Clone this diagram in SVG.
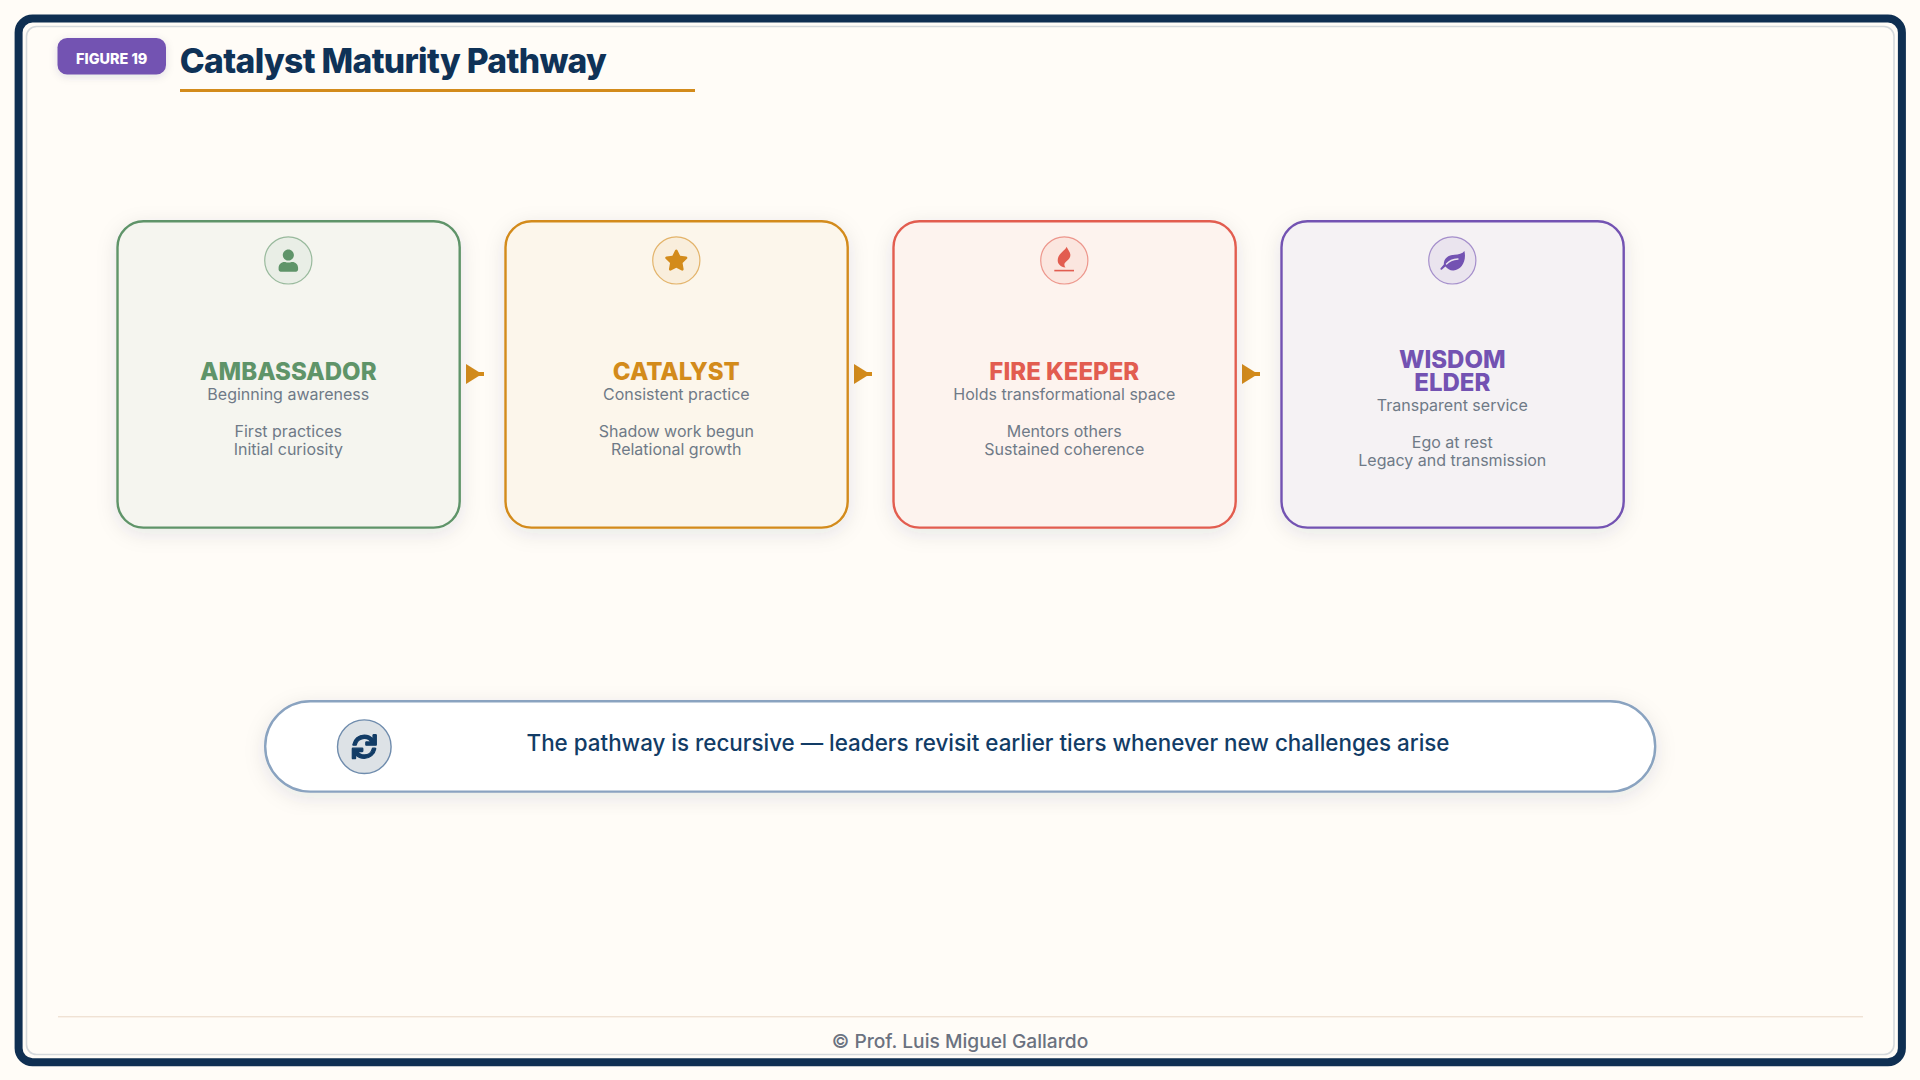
<svg xmlns="http://www.w3.org/2000/svg" width="1920" height="1080" viewBox="0 0 1920 1080">
<style>
text{font-family:Inter,"Liberation Sans",sans-serif;text-anchor:middle}
.card{stroke-width:2.4}
.t{font-size:24px;font-weight:800}
.s{font-size:16px;fill:#6f7a87}
.ic{stroke-width:1.2}
.g{fill:#5f9469}.gs{stroke:#5f9469}
.o{fill:#d38b1b}.os{stroke:#d38b1b}
.r{fill:#e25d50}.rs{stroke:#e25d50}
.p{fill:#7352b2}.ps{stroke:#7352b2}
</style>
<defs>
<filter id="sh" x="-20%" y="-20%" width="140%" height="145%"><feDropShadow dx="0" dy="5" stdDeviation="10" flood-color="#0f2f52" flood-opacity=".1"/></filter>
<filter id="sb" x="-20%" y="-30%" width="140%" height="170%"><feDropShadow dx="0" dy="2" stdDeviation="4" flood-color="#0f2f52" flood-opacity=".12"/></filter>
<marker id="ah" markerUnits="userSpaceOnUse" markerWidth="18" markerHeight="20" refX="18" refY="10" orient="auto"><path d="M0 0L16 10L0 20z" fill="#d38b1b"/></marker>
</defs>
<rect width="1920" height="1080" fill="#fffcf7"/>
<rect x="18.6" y="18.6" width="1883.3" height="1043.6" rx="14" fill="none" stroke="#0f2f52" stroke-width="8"/>
<rect x="26.5" y="26.5" width="1867.5" height="1028" rx="10" fill="none" stroke="#d5d9dc" stroke-width="1.6"/>
<g id="header">
<rect x="57.5" y="38" width="108.5" height="36.5" rx="9.6" fill="#7352b2" filter="url(#sb)"/>
<text x="111.7" y="63.5" font-size="14.4" font-weight="800" fill="#fff">FIGURE 19</text>
<text x="393" y="73" font-size="33.6" font-weight="800" fill="#0f3257" letter-spacing="-.65">Catalyst Maturity Pathway</text>
<rect x="180" y="89" width="515" height="3" fill="#d38b1b"/>
</g>
<g id="connectors" fill="none" stroke="#d38b1b" stroke-width="4">
<line x1="466" y1="374" x2="484" y2="374" marker-end="url(#ah)"/>
<line x1="854" y1="374" x2="872" y2="374" marker-end="url(#ah)"/>
<line x1="1242" y1="374" x2="1260" y2="374" marker-end="url(#ah)"/>
</g>
<g id="ambassador">
<rect class="card gs" x="117.5" y="221.2" width="342.2" height="306.4" rx="26" fill="#f5f5ef" filter="url(#sh)"/>
<circle class="ic gs" cx="288.3" cy="260.4" r="23.6" fill="#e9eee6" stroke-opacity=".6"/>
<path class="g" transform="translate(278.6 249.4) scale(.0435)" d="M224 256c70.7 0 128-57.3 128-128S294.7 0 224 0 96 57.3 96 128s57.3 128 128 128zm89.6 32h-16.7c-22.2 10.2-46.9 16-72.9 16s-50.6-5.8-72.9-16h-16.7C60.2 288 0 348.2 0 422.4V464c0 26.5 21.5 48 48 48h352c26.5 0 48-21.5 48-48v-41.6c0-74.2-60.2-134.4-134.4-134.4z"/>
<text class="t g" x="288.3" y="380">AMBASSADOR</text>
<text class="s" x="288.3" y="399.5">Beginning awareness</text>
<text class="s" x="288.3" y="436.7">First practices</text>
<text class="s" x="288.3" y="455">Initial curiosity</text>
</g>
<g id="catalyst">
<rect class="card os" x="505.5" y="221.2" width="342.2" height="306.4" rx="26" fill="#fcf6eb" filter="url(#sh)"/>
<circle class="ic os" cx="676.3" cy="260.4" r="23.6" fill="#f9eedc" stroke-opacity=".6"/>
<path class="o" transform="translate(664.4 249.5) scale(.0413)" d="M259.3 17.8L194 150.2 47.9 171.5c-26.2 3.8-36.7 36.1-17.7 54.6l105.7 103-25 145.5c-4.5 26.3 23.2 46 46.4 33.7L288 439.6l130.7 68.7c23.2 12.2 50.9-7.4 46.4-33.7l-25-145.5 105.7-103c19-18.5 8.5-50.8-17.7-54.6L382 150.2 316.7 17.8c-11.7-23.6-45.6-23.9-57.4 0z"/>
<text class="t o" x="676.3" y="380">CATALYST</text>
<text class="s" x="676.3" y="399.5">Consistent practice</text>
<text class="s" x="676.3" y="436.7">Shadow work begun</text>
<text class="s" x="676.3" y="455">Relational growth</text>
</g>
<g id="fire-keeper">
<rect class="card rs" x="893.5" y="221.2" width="342.2" height="306.4" rx="26" fill="#fdf3ee" filter="url(#sh)"/>
<circle class="ic rs" cx="1064.3" cy="260.4" r="23.6" fill="#fbe6df" stroke-opacity=".6"/>
<path class="r" d="M1066.5 246.8C1066 250.3 1057.7 253.3 1057.7 260.3C1057.7 264.3 1060.5 266.8 1065.5 267.6C1064 265.3 1063.7 263.6 1066.5 261.3C1069.5 258.8 1070.7 256.8 1070.3 254.3C1070 251.8 1068 249.8 1066.5 246.8z"/>
<rect class="r" x="1054.3" y="269.8" width="19.7" height="1.6"/>
<text class="t r" x="1064.3" y="380">FIRE KEEPER</text>
<text class="s" x="1064.3" y="399.5">Holds transformational space</text>
<text class="s" x="1064.3" y="436.7">Mentors others</text>
<text class="s" x="1064.3" y="455">Sustained coherence</text>
</g>
<g id="wisdom-elder">
<rect class="card ps" x="1281.5" y="221.2" width="342.2" height="306.4" rx="26" fill="#f5f2f4" filter="url(#sh)"/>
<circle class="ic ps" cx="1452.3" cy="260.4" r="23.6" fill="#eae4ee" stroke-opacity=".6"/>
<path class="p" d="M1464.4 251C1462.5 253.8 1458.5 254.6 1454.5 254.7C1448 254.9 1443.6 258.6 1443.8 264.6L1440.6 268.2C1440 269 1441 270.3 1442 269.6L1445.4 266.6C1447.5 269 1450 270.7 1453.5 270.5C1461.5 270 1466.8 261 1464.4 251z"/>
<path d="M1446.500 264C1449 261 1452.500 259.400 1458 259" fill="none" stroke="#eae4ee" stroke-width="1.300" stroke-linecap="round"/>
<text class="t p" x="1452.3" y="368">WISDOM</text>
<text class="t p" x="1452.3" y="391">ELDER</text>
<text class="s" x="1452.3" y="411">Transparent service</text>
<text class="s" x="1452.3" y="447.7">Ego at rest</text>
<text class="s" x="1452.3" y="466">Legacy and transmission</text>
</g>
<g id="recursive-note">
<rect x="265.2" y="701.2" width="1390" height="90.4" rx="45" fill="#fff" stroke="#8aa3c0" stroke-width="2.4" filter="url(#sh)"/>
<circle cx="364.3" cy="746.7" r="26.8" fill="#dde2e6" stroke="#6f8cad" stroke-width="1.4"/>
<path fill="#123c66" stroke="#123c66" stroke-width="26" transform="translate(352.3 734.7) scale(.0469)" d="M440.65 12.57l4 82.77A247.16 247.16 0 0 0 255.83 8C134.73 8 33.91 94.92 12.29 209.82A12 12 0 0 0 24.09 224h49.05a12 12 0 0 0 11.67-9.26 175.91 175.91 0 0 1 317-56.94l-101.46-4.86a12 12 0 0 0-12.57 12v47.41a12 12 0 0 0 12 12H500a12 12 0 0 0 12-12V12a12 12 0 0 0-12-12h-47.37a12 12 0 0 0-11.98 12.57zM255.83 432a175.61 175.61 0 0 1-146-77.8l101.8 4.87a12 12 0 0 0 12.57-12v-47.4a12 12 0 0 0-12-12H12a12 12 0 0 0-12 12V500a12 12 0 0 0 12 12h47.35a12 12 0 0 0 12-12.6l-4.15-82.57A247.17 247.17 0 0 0 255.83 504c121.11 0 221.93-86.92 243.55-201.82a12 12 0 0 0-11.8-14.18h-49.05a12 12 0 0 0-11.67 9.26A175.86 175.86 0 0 1 255.83 432z"/>
<text x="988" y="751" font-size="22.4" font-weight="500" fill="#123c66">The pathway is recursive — leaders revisit earlier tiers whenever new challenges arise</text>
</g>
<g id="footer">
<rect x="58" y="1016" width="1805" height="1.4" fill="#f0e2d4"/>
<text x="960" y="1047.7" font-size="19.2" font-weight="500" fill="#6b7280">© Prof. Luis Miguel Gallardo</text>
</g>
</svg>
